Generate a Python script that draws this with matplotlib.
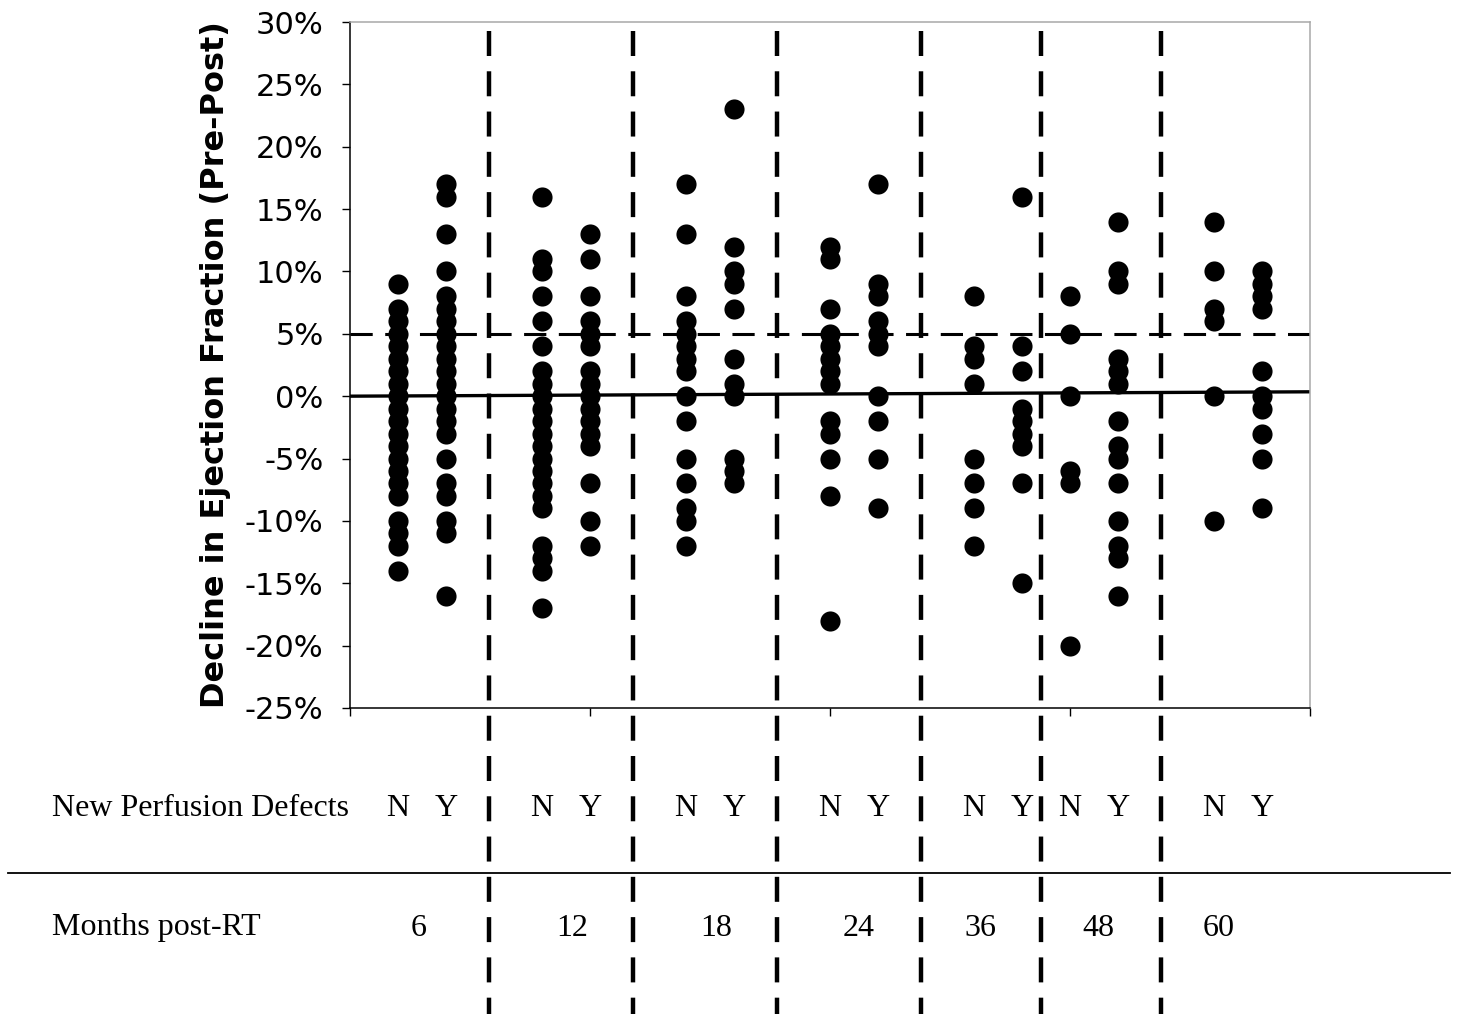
import numpy as np
import matplotlib
matplotlib.use("Agg")
import matplotlib.pyplot as plt
import matplotlib.transforms as mtransforms
from matplotlib.ticker import FuncFormatter, MultipleLocator

plt.rcParams["axes.unicode_minus"] = False
plt.rcParams["lines.scale_dashes"] = False

# --- data (decline in EF, %, per months post-RT and new perfusion defect N/Y)
months = ["6", "12", "18", "24", "36", "48", "60"]
defect = ["N", "Y"]

ef_6_n = [9, 7, 6, 5, 4, 3, 2, 1, 0, -1, -2, -3, -4, -5, -6, -7, -8, -10, -11, -12, -14]
ef_6_y = [17, 16, 13, 10, 8, 7, 6, 5, 4, 3, 2, 1, 0, -1, -2, -3, -5, -7, -8, -10, -11, -16]
ef_12_n = [16, 11, 10, 8, 6, 4, 2, 1, 0, -1, -2, -3, -4, -5, -6, -7, -8, -9, -12, -13, -14, -17]
ef_12_y = [13, 11, 8, 6, 5, 4, 2, 1, 0, -1, -2, -3, -4, -7, -10, -12]
ef_18_n = [17, 13, 8, 6, 5, 4, 3, 2, 0, -2, -5, -7, -9, -10, -12]
ef_18_y = [23, 12, 10, 9, 7, 3, 1, 0, -5, -6, -7]
ef_24_n = [12, 11, 7, 5, 4, 3, 2, 1, -2, -3, -5, -8, -18]
ef_24_y = [17, 9, 8, 6, 5, 4, 0, -2, -5, -9]
ef_36_n = [8, 4, 3, 1, -5, -7, -9, -12]
ef_36_y = [16, 4, 2, -1, -2, -3, -4, -7, -15]
ef_48_n = [8, 5, 0, -6, -7, -20]
ef_48_y = [14, 10, 9, 3, 2, 1, -2, -4, -5, -7, -10, -12, -13, -16]
ef_60_n = [14, 10, 7, 6, 0, -10]
ef_60_y = [10, 9, 8, 7, 2, 0, -1, -3, -5, -9]

threshold = 5          # dashed reference line
trend_ends = [0.0, 0.35]  # solid trend line at left / right edge

columns = [ef_6_n, ef_6_y, ef_12_n, ef_12_y, ef_18_n, ef_18_y, ef_24_n, ef_24_y,
           ef_36_n, ef_36_y, ef_48_n, ef_48_y, ef_60_n, ef_60_y]

# --- layout
col_x = [1, 2, 4, 5, 7, 8, 10, 11, 13, 14, 15, 16, 18, 19]
sep_x = [2.9, 5.9, 8.9, 11.9, 14.4, 16.9]
month_x = [1.44, 4.63, 7.63, 10.6, 13.13, 15.6, 18.1]

fig = plt.figure(figsize=(14.57, 10.14), dpi=100)
ax = fig.add_axes([0.2402, 0.3018, 0.6589, 0.6765])

for x, vals in zip(col_x, columns):
    ax.scatter([x] * len(vals), vals, s=210, color="black", linewidths=0, zorder=3)

ax.plot([0, 20], [threshold, threshold], color="black", lw=2.2,
        dashes=(16, 9), zorder=2)
ax.plot([0, 20], trend_ends, color="black", lw=2.4, zorder=2)

ax.set_xlim(0, 20)
ax.set_ylim(-25, 30)
ax.xaxis.set_major_locator(MultipleLocator(5))
ax.yaxis.set_major_locator(MultipleLocator(5))
ax.xaxis.set_ticklabels([])
ax.yaxis.set_major_formatter(FuncFormatter(lambda v, p: f"{v:.0f}%"))
ax.tick_params(axis="both", direction="out", length=6, width=1)
ax.tick_params(axis="y", labelsize=22, pad=13, colors="black")
for s in ["left", "bottom"]:
    ax.spines[s].set_color("black")
    ax.spines[s].set_linewidth(1.1)
for s in ["top", "right"]:
    ax.spines[s].set_color("#a8a8a8")
    ax.spines[s].set_linewidth(1.1)

ax.set_ylabel("Decline in Ejection Fraction (Pre-Post)", fontsize=23,
              fontweight="bold", labelpad=10)

# vertical dashed separators run from the plot top down to the figure bottom
trans = mtransforms.blended_transform_factory(ax.transData, fig.transFigure)
for x in sep_x:
    ax.plot([x, x], [0.969, 0.0], transform=trans, color="black", lw=3.2,
            dashes=(18, 11), clip_on=False, zorder=4)

# table underneath
serif = "Liberation Serif"
ytxt1 = 1 - 808 / 1014
ytxt2 = 1 - 928 / 1014
fig.text(52 / 1457, ytxt1, "New Perfusion Defects", family=serif, fontsize=23,
         va="center", ha="left")
for i, x in enumerate(col_x):
    ax.text(x, ytxt1, defect[i % 2], transform=trans, family=serif, fontsize=23,
            va="center", ha="center")

fig.add_artist(plt.Line2D([8 / 1457, 1450 / 1457], [1 - 873 / 1014] * 2,
                          color="black", lw=1.3))

fig.text(52 / 1457, ytxt2, "Months post-RT", family=serif, fontsize=23,
         va="center", ha="left")
for m, x in zip(months, month_x):
    ax.text(x, ytxt2, m, transform=trans, family=serif, fontsize=23,
            va="center", ha="center")

fig.savefig("out.png", dpi=100)
